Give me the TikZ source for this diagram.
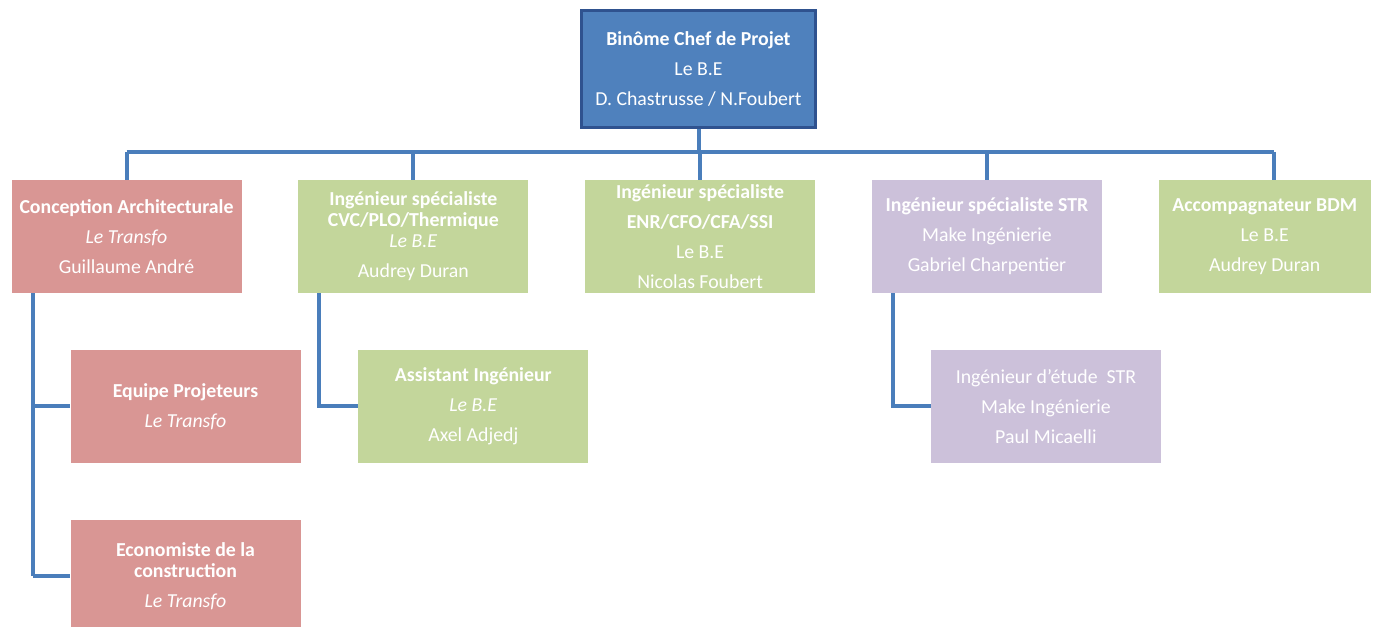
\documentclass[tikz,border=0pt]{standalone}
\usepackage{fontspec}
\setmainfont{Carlito}
\usetikzlibrary{positioning}

\definecolor{chefblue}{HTML}{4F81BD}
\definecolor{chefborder}{HTML}{2F528F}
\definecolor{archired}{HTML}{D99694}
\definecolor{ingegreen}{HTML}{C3D69B}
\definecolor{strpurple}{HTML}{CCC1DA}
\definecolor{linkblue}{HTML}{4A7EBB}

\begin{document}
\begin{tikzpicture}[x=0.5pt,y=-0.5pt,node distance=28pt,
	poste/.style={rectangle,minimum width=115pt,minimum height=56.5pt,inner sep=0pt,
		text=white,align=center,font=\fontsize{9.9}{10.5}\selectfont},
	chefbox/.style={poste,fill=chefblue,draw=chefborder,line width=1.5pt,
		minimum width=117pt,minimum height=58.5pt},
	archi/.style={poste,fill=archired},
	inge/.style={poste,fill=ingegreen},
	struct/.style={poste,fill=strpurple},
	lien/.style={draw=linkblue,line width=2pt}]

\useasboundingbox (0,0) rectangle (1373,627);

\node [chefbox] (chef) at (698.5,69) {\textbf{Binôme Chef de Projet}\\[4.5pt]Le B.E\\[4.5pt]D. Chastrusse / N.Foubert};

\node [archi] (archi) at (126.5,236.5) {\textbf{Conception Architecturale}\\[4.5pt]\textit{Le Transfo}\\[4.5pt]Guillaume André};
\node [inge] (cvc) [right=of archi] {\textbf{Ingénieur spécialiste}\\\textbf{CVC/PLO/Thermique}\\\textit{Le B.E}\\[4.5pt]Audrey Duran};
\node [inge] (enr) [right=of cvc] {\textbf{Ingénieur spécialiste}\\[4.5pt]\textbf{ENR/CFO/CFA/SSI}\\[4.5pt]Le B.E\\[4.5pt]Nicolas Foubert};
\node [struct] (str) [right=of enr] {\textbf{Ingénieur spécialiste STR}\\[4.5pt]Make Ingénierie\\[4.5pt]Gabriel Charpentier};
\node [inge,minimum width=106pt] (bdm) [right=of str] {\textbf{Accompagnateur BDM}\\[4.5pt]Le B.E\\[4.5pt]Audrey Duran};

\node [archi] (projeteurs) [below=of archi.south west,anchor=north west,xshift=29.5pt] {\textbf{Equipe Projeteurs}\\[4.5pt]\textit{Le Transfo}};
\node [archi] (eco) [below=of projeteurs] {\textbf{Economiste de la}\\\textbf{construction}\\[4.5pt]\textit{Le Transfo}};
\node [inge] (assistant) [below=of cvc.south west,anchor=north west,xshift=30pt] {\textbf{Assistant Ingénieur}\\[4.5pt]\textit{Le B.E}\\[4.5pt]Axel Adjedj};
\node [struct] (etude) [below=of str.south west,anchor=north west,xshift=29.5pt] {Ingénieur d’étude~~STR\\[4.5pt]Make Ingénierie\\[4.5pt]Paul Micaelli};

\coordinate (bar) at (0,152);
\coordinate (bdmtop) at ([xshift=4.5pt]bdm.north);
\coordinate (archidown) at ([xshift=10.75pt]archi.south west);
\coordinate (cvcdown) at ([xshift=10.75pt]cvc.south west);
\coordinate (strdown) at ([xshift=10.5pt]str.south west);

\path [lien]
	(chef.south) edge (chef.south |- bar)
	(archi.north |- bar) edge (bdmtop |- bar)
	(archi.north) edge (archi.north |- bar)
	(cvc.north) edge (cvc.north |- bar)
	(enr.north) edge (enr.north |- bar)
	(str.north) edge (str.north |- bar)
	(bdmtop) edge (bdmtop |- bar)
	(archidown) edge (archidown |- eco.west)
	(archidown |- projeteurs.west) edge (projeteurs.west)
	(archidown |- eco.west) edge (eco.west)
	(cvcdown) edge [to path={|- (\tikztotarget)}] (assistant.west)
	(strdown) edge [to path={|- (\tikztotarget)}] (etude.west)
;

\end{tikzpicture}
\end{document}
